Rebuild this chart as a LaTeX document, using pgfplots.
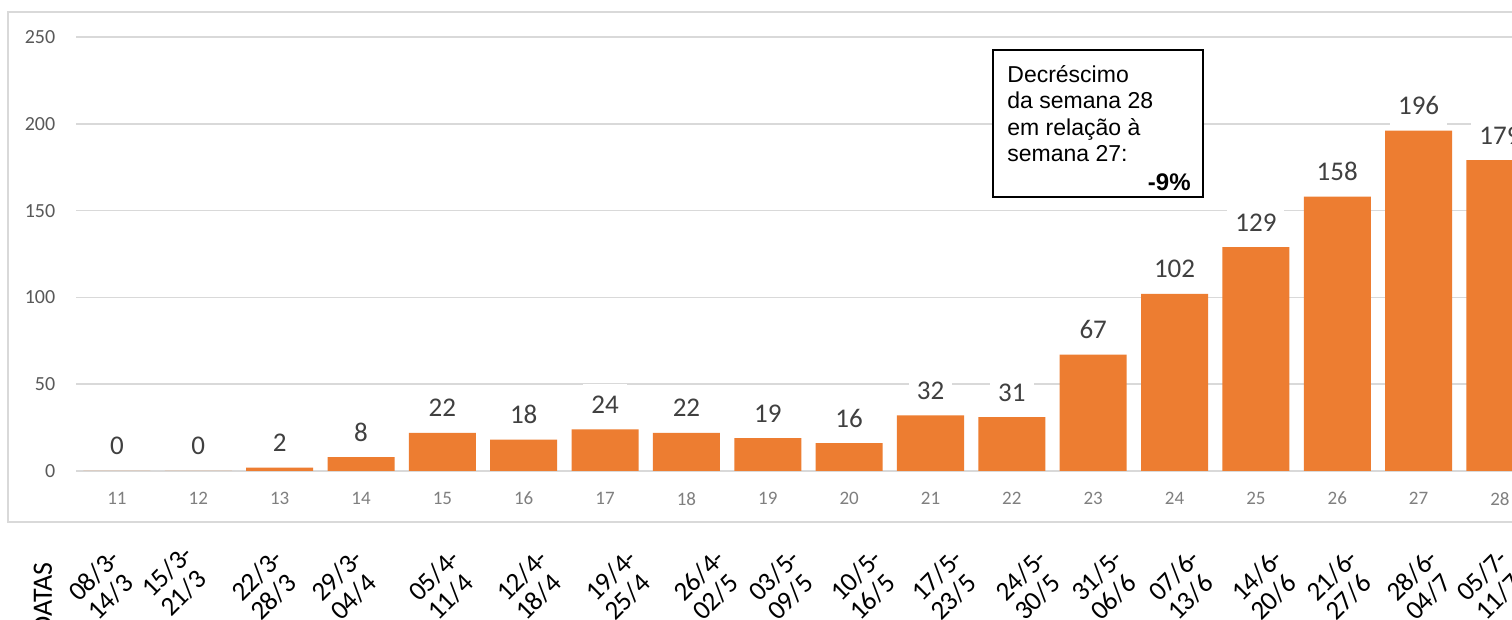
\documentclass[border=0pt]{standalone}
\usepackage{pgfplots}
\pgfplotsset{compat=1.18}
\usepackage{fontspec}
\setmainfont{Carlito}
\newfontfamily\arial{Liberation Sans}

\definecolor{barorange}{HTML}{ED7D31}
\definecolor{gridgray}{HTML}{D9D9D9}
\definecolor{labelgray}{HTML}{404040}
\definecolor{tickgray}{HTML}{7F7F7F}
\definecolor{ytickgray}{HTML}{595959}

% two-line rotated date label, (x,y) = start of the first baseline, in pixels
\newcommand{\datelab}[4]{%
  \node[rotate=45, anchor=base west, font=\fontsize{13.5}{13.5}\selectfont] at (#1,#2) {#3};
  \node[rotate=45, anchor=base west, font=\fontsize{13.5}{13.5}\selectfont] at ({#1+19},{#2-19}) {#4};
}

\begin{document}
\begin{tikzpicture}[x=0.5pt,y=0.5pt]
\path[use as bounding box] (0,0) rectangle (1512,620);
\clip (0,0) rectangle (1512,620);
\fill[white] (0,0) rectangle (1512,620);
\draw[gridgray, line width=0.75pt] (8,98) rectangle (1540,608);

\begin{axis}[
    at={(38.15pt,74.5pt)}, anchor=south west,
    scale only axis,
    width=717.85pt, height=217pt,
    xmin=10.5, xmax=28.148,
    ymin=0, ymax=250,
    axis line style={draw=none},
    major tick length=0pt,
    xtick={11,...,28},
    ytick={0,50,...,250},
    ymajorgrids,
    grid style={gridgray, line width=0.75pt},
    /pgf/number format/assume math mode=true,
    xticklabel style={font=\fontsize{9.5}{11}\selectfont, text=tickgray, anchor=north, yshift=-7pt},
    yticklabel style={font=\fontsize{10}{12}\selectfont, text=ytickgray, anchor=east, xshift=-7pt},
    ybar, bar width=33.5pt,
    clip mode=individual,
    nodes near coords,
    every node near coord/.append style={
        font=\fontsize{13.5}{16}\selectfont, text=labelgray,
        fill=white, anchor=base, yshift=8pt, inner xsep=4pt, inner ysep=6pt},
]
\addplot[fill=barorange, draw=none] coordinates {
    (11,0) (12,0) (13,2) (14,8) (15,22) (16,18) (17,24) (18,22) (19,19)
    (20,16) (21,32) (22,31) (23,67) (24,102) (25,129) (26,158) (27,196) (28,179)
};
\end{axis}

% annotation box
\draw[black, fill=white, line width=0.9pt] (993,570) rectangle (1203,423);
\begin{scope}[every node/.style={font=\arial\fontsize{11.5}{13}\selectfont, inner sep=0pt}]
\node[anchor=base west] at (1007,537) {Decréscimo};
\node[anchor=base west] at (1007,511) {da semana 28};
\node[anchor=base west] at (1007,484) {em relação à};
\node[anchor=base west] at (1007,458) {semana 27:};
\node[anchor=base east, font=\arial\bfseries\fontsize{12}{13}\selectfont] at (1191,429) {-9\%};
\end{scope}

% date row
\node[rotate=90, anchor=base east, font=\fontsize{14}{16}\selectfont, inner sep=0pt] at (52,58) {DATAS};
\begin{scope}[every node/.append style={inner sep=0pt}]
\datelab{79}{17}{08/3-}{14/3}
\datelab{152}{21}{15/3-}{21/3}
\datelab{242}{17}{22/3-}{28/3}
\datelab{322}{17}{29/3-}{04/4}
\datelab{419}{17}{05/4-}{11/4}
\datelab{507}{17}{12/4-}{18/4}
\datelab{596}{17}{19/4-}{25/4}
\datelab{684}{17}{26/4-}{02/5}
\datelab{759}{17}{03/5-}{09/5}
\datelab{841}{17}{10/5-}{16/5}
\datelab{922}{17}{17/5-}{23/5}
\datelab{1006}{17}{24/5-}{30/5}
\datelab{1082}{17}{31/5-}{06/6}
\datelab{1159}{17}{07/6-}{13/6}
\datelab{1242}{17}{14/6-}{20/6}
\datelab{1317}{17}{21/6-}{27/6}
\datelab{1397}{17}{28/6-}{04/7}
\datelab{1467}{17}{05/7-}{11/7}
\end{scope}
\end{tikzpicture}
\end{document}
